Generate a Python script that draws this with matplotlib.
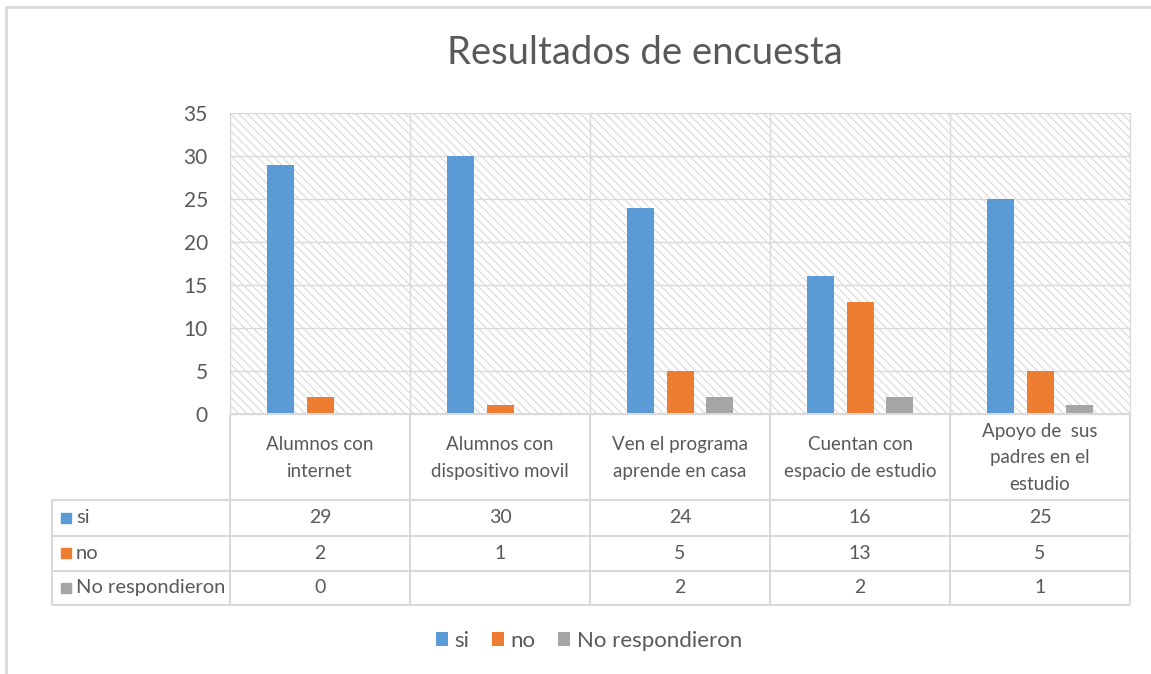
import matplotlib
matplotlib.use('Agg')
import matplotlib.pyplot as plt
import numpy as np
from matplotlib.patches import Rectangle, Patch
from matplotlib.lines import Line2D

plt.rcParams['font.family'] = ['Lato', 'DejaVu Sans']
plt.rcParams['hatch.linewidth'] = 0.7

categories = ['Alumnos con\ninternet', 'Alumnos con\ndispositivo movil',
              'Ven el programa\naprende en casa', 'Cuentan con\nespacio de estudio',
              'Apoyo de  sus\npadres en el\nestudio']
series_names = ['si', 'no', 'No respondieron']
si = [29, 30, 24, 16, 25]
no = [2, 1, 5, 13, 5]
no_resp = [0, np.nan, 2, 2, 1]
colors = ['#5B9BD5', '#ED7D31', '#A5A5A5']
yticks = [0, 5, 10, 15, 20, 25, 30, 35]

TXT = '#595959'
GRID = '#d9d9d9'
W, H = 1151, 674


def fx(px):
    return px / W


def fy(py):
    return 1 - py / H


fig = plt.figure(figsize=(W / 100, H / 100), dpi=100)

# chart border
fig.add_artist(Line2D([fx(6), fx(6), 1.0], [0.0, fy(7), fy(7)], color=GRID, lw=2))

fig.text(fx(645), fy(53), 'Resultados de encuesta', ha='center', va='center',
         fontsize=27.5, color=TXT)

# plot area
ax = fig.add_axes([fx(230), fy(414), fx(1130) - fx(230), fy(113) - fy(414)])
ax.add_patch(Rectangle((0, 0), 1, 1, transform=ax.transAxes, facecolor='white',
                       edgecolor='#d4d4d4', hatch='\\\\\\\\', lw=0, zorder=-1))
x = np.arange(len(categories))
width = 0.15
step = 0.217
for k, (vals, c) in enumerate(zip([si, no, no_resp], colors)):
    ax.bar(x + (k - 1) * step, np.array(vals, dtype=float), width=width, color=c, zorder=3)
ax.set_xlim(-0.5, len(categories) - 0.5)
ax.set_ylim(0, 35)
ax.set_yticks(yticks)
ax.set_xticks([])
ax.yaxis.grid(True, color=GRID, lw=1)
ax.set_axisbelow(True)
for b in np.arange(-0.5, len(categories), 1.0):
    ax.axvline(b, color=GRID, lw=1, zorder=1)
for s in ax.spines.values():
    s.set_color(GRID)
ax.tick_params(axis='y', length=0, pad=16, labelsize=15, labelcolor=TXT)

# data table
x_left = -0.5 - 178 / 180
tax = fig.add_axes([fx(52), fy(605), fx(1130) - fx(52), fy(414) - fy(605)])
tax.axis('off')
tax.set_xlim(x_left, len(categories) - 0.5)
tax.set_ylim(605, 414)
row_edges = [500, 536, 571, 605]
tax.hlines(414, -0.5, len(categories) - 0.5, color=GRID, lw=1.5, clip_on=False)
tax.hlines(row_edges, x_left, len(categories) - 0.5, color=GRID, lw=1.5, clip_on=False)
tax.vlines(np.arange(-0.5, len(categories), 1.0), 414, 605, color=GRID, lw=1.5, clip_on=False)
tax.vlines(x_left, 500, 605, color=GRID, lw=1.5, clip_on=False)

for i, cat in enumerate(categories):
    tax.text(i, 458, cat, ha='center', va='center', fontsize=13.5, color=TXT,
             linespacing=1.65)

for r, (name, vals, c) in enumerate(zip(series_names, [si, no, no_resp], colors)):
    yc = (row_edges[r] + row_edges[r + 1]) / 2
    tax.plot(x_left + 14 / 180, yc, marker='s', ms=7, color=c, clip_on=False)
    tax.text(x_left + 24 / 180, yc, name, ha='left', va='center', fontsize=14.5, color=TXT)
    for i, v in enumerate(vals):
        if not np.isnan(v):
            tax.text(i, yc, f'{int(v)}', ha='center', va='center', fontsize=14, color=TXT)

handles = [Patch(facecolor=c, label=n) for c, n in zip(colors, series_names)]
fig.legend(handles=handles, loc='center', bbox_to_anchor=(fx(589), fy(641)), ncol=3,
           frameon=False, fontsize=16, handlelength=0.55, handleheight=0.55,
           handletextpad=0.3, columnspacing=1.0, labelcolor=TXT)

fig.savefig('out.png', dpi=100)
